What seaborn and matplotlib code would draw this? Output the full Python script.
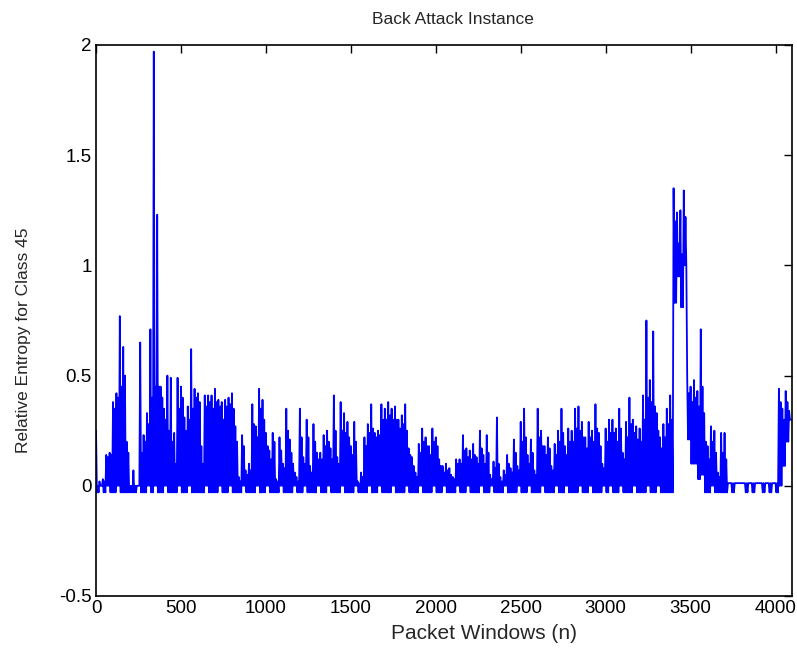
import numpy as np
import pandas as pd
import matplotlib
matplotlib.use("Agg")
import matplotlib.pyplot as plt
import seaborn as sns

# ---- data, one entry per 20-window bin ----
# spike tops (at n = 0, 20, 40, ...)
peaks = [
    0.25, 0.02, 0.03, 0.14, 0.15, 0.38, 0.42, 0.77, 0.63, 0.20,
    0.00, 0.07, 0.00, 0.65, 0.23, 0.33, 0.71, 1.97, 1.23, 0.45,
    0.35, 0.50, 0.49, 0.24, 0.49, 0.45, 0.31, 0.36, 0.62, 0.44,
    0.42, 0.18, 0.41, 0.41, 0.41, 0.44, 0.39, 0.38, 0.39, 0.40,
    0.42, 0.27, 0.04, 0.23, 0.07, 0.10, 0.37, 0.27, 0.44, 0.39,
    0.24, 0.16, 0.24, 0.03, 0.22, 0.10, 0.35, 0.21, 0.10, 0.04,
    0.35, 0.13, 0.30, 0.09, 0.28, 0.15, 0.15, 0.23, 0.25, 0.17,
    0.41, 0.13, 0.38, 0.33, 0.29, 0.18, 0.29, 0.02, 0.06, 0.22,
    0.28, 0.37, 0.24, 0.25, 0.37, 0.35, 0.38, 0.35, 0.36, 0.30,
    0.32, 0.37, 0.17, 0.13, 0.06, 0.19, 0.26, 0.22, 0.18, 0.26,
    0.22, 0.12, 0.09, 0.10, 0.08, 0.04, 0.12, 0.12, 0.23, 0.17,
    0.16, 0.19, 0.13, 0.25, 0.14, 0.23, 0.05, 0.11, 0.31, 0.04,
    0.07, 0.14, 0.08, 0.21, 0.09, 0.29, 0.35, 0.14, 0.21, 0.07,
    0.35, 0.25, 0.18, 0.22, 0.09, 0.19, 0.25, 0.35, 0.18, 0.26,
    0.25, 0.35, 0.36, 0.29, 0.22, 0.29, 0.25, 0.37, 0.24, 0.10,
    0.26, 0.30, 0.30, 0.26, 0.35, 0.15, 0.29, 0.40, 0.30, 0.27,
    0.26, 0.41, 0.75, 0.48, 0.70, 0.33, 0.22, 0.28, 0.35, 0.41,
    1.35, 1.24, 1.25, 1.34, 0.50, 0.45, 0.48, 0.43, 0.71, 0.33,
    0.18, 0.27, 0.25, 0.06, 0.24, 0.24, 0.012, 0.012, 0.012, 0.012,
    0.012, 0.012, 0.012, 0.012, 0.012, 0.012, 0.012, 0.012, 0.012, 0.012,
    0.012, 0.44, 0.35, 0.43, 0.34,
]
# level of the dense body of the trace in each bin (at n = 10, 30, 50, ...)
body = [
    0.00, 0.00, 0.02, 0.13, 0.14, 0.35, 0.40, 0.45, 0.50, 0.15,
    0.00, 0.00, 0.00, 0.15, 0.20, 0.28, 0.40, 0.45, 0.45, 0.40,
    0.30, 0.25, 0.20, 0.10, 0.35, 0.40, 0.25, 0.30, 0.35, 0.40,
    0.38, 0.10, 0.36, 0.38, 0.35, 0.38, 0.36, 0.30, 0.36, 0.37,
    0.35, 0.20, 0.02, 0.18, 0.05, 0.07, 0.28, 0.22, 0.35, 0.30,
    0.18, 0.12, 0.20, 0.02, 0.16, 0.08, 0.25, 0.15, 0.06, 0.02,
    0.22, 0.10, 0.22, 0.06, 0.20, 0.12, 0.12, 0.18, 0.20, 0.12,
    0.25, 0.10, 0.25, 0.24, 0.22, 0.14, 0.20, 0.01, 0.04, 0.18,
    0.24, 0.26, 0.22, 0.23, 0.30, 0.30, 0.32, 0.30, 0.30, 0.26,
    0.28, 0.25, 0.14, 0.09, 0.04, 0.15, 0.20, 0.18, 0.14, 0.20,
    0.18, 0.09, 0.06, 0.07, 0.05, 0.03, 0.10, 0.10, 0.16, 0.13,
    0.12, 0.14, 0.10, 0.17, 0.10, 0.15, 0.03, 0.08, 0.10, 0.02,
    0.05, 0.10, 0.06, 0.15, 0.07, 0.20, 0.22, 0.10, 0.15, 0.05,
    0.22, 0.18, 0.14, 0.17, 0.07, 0.14, 0.20, 0.24, 0.14, 0.20,
    0.20, 0.26, 0.25, 0.22, 0.17, 0.22, 0.20, 0.26, 0.18, 0.08,
    0.20, 0.24, 0.24, 0.20, 0.26, 0.12, 0.22, 0.28, 0.24, 0.21,
    0.20, 0.30, 0.40, 0.38, 0.36, 0.25, 0.17, 0.22, 0.28, 0.30,
    1.20, 1.10, 1.05, 1.22, 0.42, 0.38, 0.40, 0.36, 0.45, 0.20,
    0.12, 0.20, 0.15, 0.04, 0.15, 0.12, 0.012, 0.012, 0.012, 0.012,
    0.012, 0.012, 0.012, 0.012, 0.012, 0.012, 0.012, 0.012, 0.012, 0.012,
    0.012, 0.38, 0.30, 0.38, 0.30,
]
# lowest level reached in each bin (at n = 5, 15, 25, ...)
troughs = [
    -0.03, 0.00, -0.03, 0.00, -0.03, -0.03, 0.00, -0.03, -0.03, -0.03,
    -0.03, -0.03, 0.00, -0.03, -0.03, 0.00, -0.03, 0.00, -0.03, -0.03,
    0.00, -0.03, -0.03, -0.03, 0.00, -0.03, -0.03, 0.00, -0.03, -0.03,
    -0.03, -0.03, 0.00, -0.03, -0.03, -0.03, 0.00, -0.03, -0.03, 0.00,
    -0.03, -0.03, -0.03, 0.00, -0.03, -0.03, -0.03, 0.00, -0.03, -0.03,
    0.00, -0.03, -0.03, -0.03, 0.00, -0.03, -0.03, -0.03, 0.00, -0.03,
    -0.03, 0.00, -0.03, -0.03, -0.03, 0.00, -0.03, -0.03, 0.00, -0.03,
    -0.03, -0.03, 0.00, -0.03, -0.03, -0.03, 0.00, -0.03, -0.03, -0.03,
    0.00, -0.03, -0.03, 0.00, -0.03, -0.03, -0.03, 0.00, -0.03, -0.03,
    -0.03, 0.00, -0.03, -0.03, -0.03, 0.00, -0.03, -0.03, -0.03, 0.00,
    -0.03, -0.03, 0.00, -0.03, -0.03, -0.03, 0.00, -0.03, -0.03, 0.00,
    -0.03, -0.03, -0.03, 0.00, -0.03, -0.03, 0.00, -0.03, -0.03, -0.03,
    0.00, -0.03, -0.03, -0.03, 0.00, -0.03, -0.03, 0.00, -0.03, -0.03,
    -0.03, 0.00, -0.03, -0.03, -0.03, 0.00, -0.03, -0.03, 0.00, -0.03,
    -0.03, -0.03, 0.00, -0.03, -0.03, 0.00, -0.03, -0.03, -0.03, 0.00,
    -0.03, 0.00, -0.03, -0.03, 0.00, -0.03, -0.03, -0.03, 0.00, -0.03,
    -0.03, -0.03, 0.00, -0.03, -0.03, 0.00, -0.03, -0.03, -0.03, -0.03,
    0.83, 0.95, 0.81, 1.00, 0.21, 0.10, 0.10, 0.03, 0.05, -0.03,
    -0.03, 0.00, -0.03, -0.03, -0.03, -0.03, 0.012, -0.03, 0.012, 0.012,
    0.012, -0.03, 0.012, -0.03, 0.012, 0.012, -0.03, 0.012, -0.03, 0.012,
    -0.03, 0.00, 0.09, 0.20, 0.30,
]
x_ticks = [0, 500, 1000, 1500, 2000, 2500, 3000, 3500, 4000]
y_ticks = [-0.5, 0, 0.5, 1, 1.5, 2]
y_tick_labels = ["-0.5", "0", "0.5", "1", "1.5", "2"]
title = "Back Attack Instance"
x_label = "Packet Windows (n)"
y_label = "Relative Entropy for Class 45"

start = np.arange(len(peaks)) * 20
df = pd.DataFrame({
    "n": np.concatenate([start, start + 5, start + 10, start + 15]),
    "value": np.concatenate([peaks, troughs, body, troughs]),
}).sort_values("n").reset_index(drop=True)

sns.set_style("white")
plt.rcParams["font.family"] = ["Liberation Sans", "DejaVu Sans"]

fig = plt.figure(figsize=(7.97, 6.55), dpi=100)
ax = fig.add_axes([0.1205, 0.0901, 0.873, 0.8412])
sns.lineplot(data=df, x="n", y="value", ax=ax, color="#0000ff", linewidth=1.3,
             estimator=None, sort=True)

ax.set_xlim(0, 4096)
ax.set_ylim(-0.5, 2)
ax.set_xticks(x_ticks)
ax.set_xticklabels([str(t) for t in x_ticks])
ax.set_yticks(y_ticks)
ax.set_yticklabels(y_tick_labels)
ax.tick_params(direction="in", length=6, width=1, top=True, right=True,
               labelsize=13.5, colors="black", pad=3)
for s in ax.spines.values():
    s.set_visible(True)
    s.set_color("black")
    s.set_linewidth(1.2)
ax.set_title(title, fontsize=12.5, pad=15)
ax.title.set_x(0.513)
ax.set_xlabel(x_label, fontsize=15, labelpad=5)
ax.xaxis.label.set_x(0.557)
ax.set_ylabel(y_label, fontsize=12.5, labelpad=20)
ax.yaxis.label.set_y(0.465)

fig.savefig("out.png", dpi=100)
